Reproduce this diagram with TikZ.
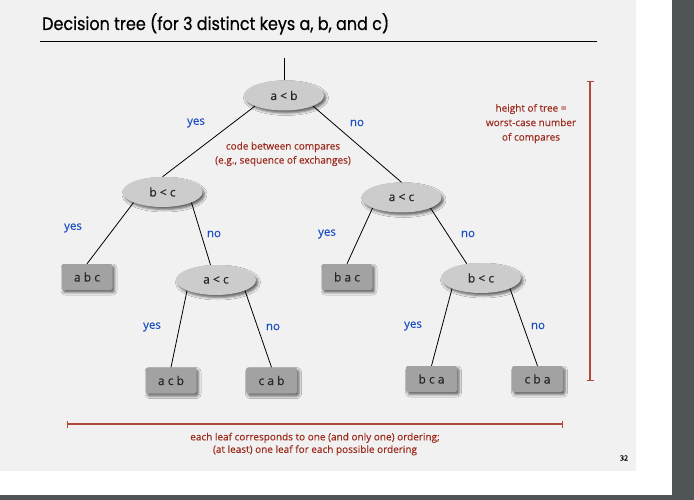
\documentclass[tikz,border=0pt]{standalone}
\usepackage{fontspec}
\usepackage{graphicx}
\setmainfont{Open Sans}[FakeBold=0.3]
\newfontfamily\titlefont{Poppins}[FakeBold=0.6]
\usetikzlibrary{shapes.geometric,shadows.blur,arrows.meta}

\definecolor{slidebg}{HTML}{F1F1F1}
\definecolor{framedark}{HTML}{4F5457}
\definecolor{cmpgray}{HTML}{CCCCCC}
\definecolor{leafgray}{HTML}{A2A2A2}
\definecolor{answerblue}{HTML}{1D4FC4}
\definecolor{noteRed}{HTML}{9C2B1E}
\definecolor{bracketRed}{HTML}{B0493C}

\tikzset{
  softshadow/.style={blur shadow={shadow xshift=2pt,shadow yshift=-2.5pt,
      shadow blur radius=2.5pt,shadow opacity=60}},
  compare/.style={ellipse,fill=cmpgray,minimum width=80pt,minimum height=30pt,
      inner sep=0pt,softshadow,font=\fontsize{12}{14}\selectfont,text=black!85},
  leaf/.style={rectangle,rounded corners=2pt,fill=leafgray,minimum width=51pt,
      minimum height=26pt,inner sep=0pt,softshadow,
      font=\fontsize{12}{14}\selectfont,text=black!85},
  branch/.style={draw=black,line width=0.8pt},
  answer/.style={text=answerblue,font=\fontsize{11.5}{13}\selectfont,inner sep=0pt},
  note/.style={text=noteRed,align=center,inner sep=0pt},
  span/.style={draw=bracketRed,line width=1.2pt,{Bar[width=7pt,line width=1.2pt]}-{Bar[width=7pt,line width=1.2pt]}},
}

\begin{document}
\begin{tikzpicture}[x=1pt,y=-1pt]
\useasboundingbox (0,0) rectangle (694,500);
% slide frame
\fill[framedark] (0,0) rectangle (694,500);
\fill[white] (0,0) rectangle (672,495);
\fill[slidebg] (0,0) rectangle (636,470.5);

% title and rule
\node[anchor=base west,inner sep=0pt] (title) at (42,30)
  {\titlefont\fontsize{18}{20}\selectfont\resizebox{347pt}{\height}{Decision tree (for 3 distinct keys a, b, and c)}};
\draw[line width=0.8pt] (40,41) -- (597,41);

% comparison nodes
\node[compare] (root) at (284,95.5) {a < b};
\node[compare] (bc1) at (162.5,192) {b < c};
\node[compare] (ac1) at (401.5,197.5) {a < c};
\node[compare] (ac2) at (216,280) {a < c};
\node[compare] (bc2) at (481,278) {b < c};

% leaves
\node[leaf] (abc) at (87,277) {a b c};
\node[leaf] (bac) at (347,277) {b a c};
\node[leaf] (acb) at (171,380.5) {a c b};
\node[leaf] (cab) at (271.5,380.5) {c a b};
\node[leaf] (bca) at (431.5,379) {b c a};
\node[leaf] (cba) at (537.5,379) {c b a};

% entry line
\coordinate (entry) at (284,58);
\draw[branch] (entry) -- (root.north);

% branches
\draw[branch] (root.200) -- (bc1.north);
\draw[branch] (root.340) -- (ac1.north);
\draw[branch] (bc1.200) -- (abc.north);
\draw[branch] (bc1.340) -- (ac2.110);
\draw[branch] (ac1.200) -- (bac.north);
\draw[branch] (ac1.340) -- (bc2.135);
\draw[branch] (ac2.200) -- (acb.north);
\draw[branch] (ac2.340) -- (cab.north);
\draw[branch] (bc2.200) -- (bca.north);
\draw[branch] (bc2.340) -- (cba.north);

% branch labels
\node[answer] (y1) at (196,123) {yes};
\node[answer] (n1) at (357,123) {no};
\node[answer] (y2) at (73,228) {yes};
\node[answer] (n2) at (214,234) {no};
\node[answer] (y3) at (327,234) {yes};
\node[answer] (n3) at (468,234) {no};
\node[answer] (y4) at (152,327) {yes};
\node[answer] (n4) at (273,327) {no};
\node[answer] (y5) at (413,326) {yes};
\node[answer] (n5) at (538,326) {no};

% notes
\node[note,font=\fontsize{10}{14}\selectfont] (code) at (283,154)
  {code between compares\\(e.g., sequence of exchanges)};
\node[note,font=\fontsize{10}{14.5}\selectfont] (height) at (531,123.5)
  {height of tree =\\worst-case number\\of compares};
\node[note,font=\fontsize{10}{12.5}\selectfont] (leaves) at (315,444)
  {each leaf corresponds to one (and only one) ordering;\\(at least) one leaf for each possible ordering};

% dimension brackets
\coordinate (vtop) at (590,81);
\coordinate (vbot) at (590,381);
\draw[span] (vtop) -- (vbot);
\coordinate (hleft) at (67,424);
\coordinate (hright) at (563,424);
\draw[span] (hleft) -- (hright);

% slide number
\node[inner sep=0pt,font=\fontsize{7}{8}\selectfont] (pagenum) at (624,458) {32};
\end{tikzpicture}
\end{document}
